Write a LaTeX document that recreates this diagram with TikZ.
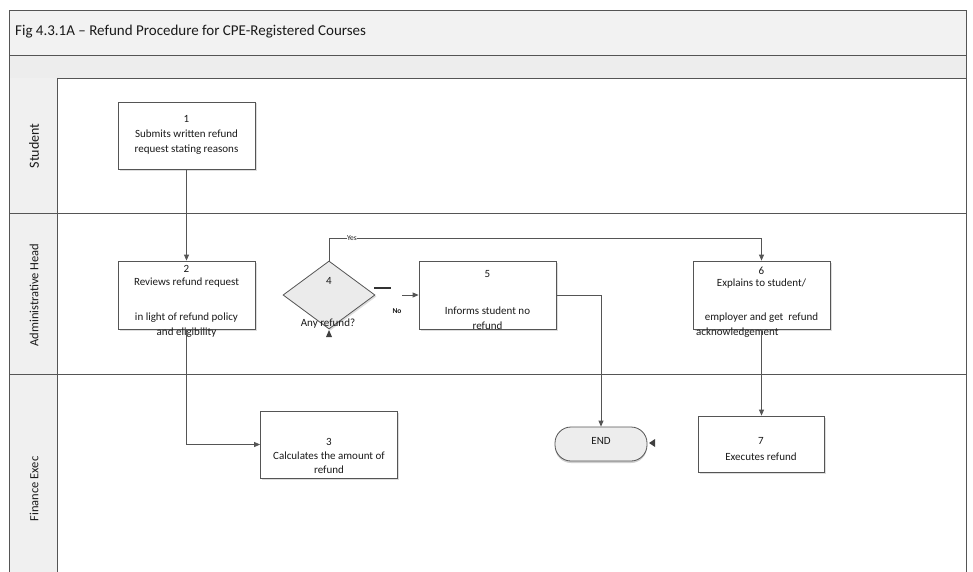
\documentclass[tikz,border=0pt]{standalone}
\usepackage{fontspec}
\setmainfont{Carlito}
\usetikzlibrary{arrows.meta,shadows,shapes.geometric}
\definecolor{ln}{HTML}{555555}
\definecolor{txt}{HTML}{1A1A1A}
\begin{document}
\begin{tikzpicture}[x=1pt,y=-1pt,
  box/.style={draw=ln, line width=0.8pt, fill=white, minimum width=137pt, minimum height=67pt, inner sep=0pt,
    drop shadow={shadow xshift=1.5pt, shadow yshift=-1.5pt, fill=black!22, opacity=0.6}},
  lbl/.style={font=\fontsize{11}{12}\selectfont, text=txt, inner sep=0pt, text height=7.5pt, text depth=2pt},
  tiny/.style={font=\fontsize{7.5}{8}\selectfont, text=txt, inner sep=0.6pt, fill=white},
  conn/.style={draw=ln, line width=0.8pt},
  arr/.style={conn, -{Triangle[length=6pt,width=5pt]}},
  lane/.style={font=\fontsize{13}{14}\selectfont, text=txt, rotate=90, inner sep=0pt}]
\useasboundingbox (0,0) rectangle (973,572);
% frame and bands
\fill[white] (0,0) rectangle (973,572);
\draw[ln, line width=0.8pt, fill=black!5] (9,10) rectangle (966,55);
\draw[ln, line width=0.8pt, fill=black!7] (9,55) rectangle (966,78);
\fill[black!6] (9,78) rectangle (57,572);
\draw[ln, line width=0.8pt] (9,78) -- (9,572);
\draw[ln, line width=0.8pt] (966,78) -- (966,572);
\draw[ln, line width=0.8pt] (57,78) -- (57,572);
\draw[ln, line width=0.8pt] (9,213) -- (966,213);
\draw[ln, line width=0.8pt] (9,374) -- (966,374);
\node[anchor=west, font=\fontsize{15}{16}\selectfont, text=txt, inner sep=0pt] (title) at (15,32) {Fig 4.3.1A -- Refund Procedure for CPE-Registered Courses};
\node[lane, font=\fontsize{14}{15}\selectfont] (lstudent) at (34,146) {Student};
\node[lane, font=\fontsize{12.5}{14}\selectfont] (ladmin) at (34,295) {Administrative Head};
\node[lane, font=\fontsize{12.5}{14}\selectfont] (lfin) at (34,489) {Finance Exec};
% boxes
\node[box] (b1) at (186.5,135.5) {};
\node[box, minimum height=68pt] (b2) at (186.5,295) {};
\node[box, minimum height=68pt] (b5) at (487.5,295) {};
\node[box, minimum height=68pt] (b6) at (761.5,295) {};
\node[box] (b3) at (329,444.5) {};
\node[box, minimum width=126pt, minimum height=56pt] (b7) at (761,444) {};
\node[diamond, draw=ln, line width=0.8pt, fill=black!8, minimum width=92pt, minimum height=68pt, inner sep=0pt, aspect=1.35,
  drop shadow={shadow xshift=1.5pt, shadow yshift=-1.5pt, fill=black!22, opacity=0.6}] (d4) at (329,295) {};
\node[draw=ln, line width=0.8pt, fill=black!7, rounded corners=16pt, minimum width=92pt, minimum height=34pt, inner sep=0pt,
  drop shadow={shadow xshift=0pt, shadow yshift=-2pt, fill=black!30, opacity=0.6}] (endn) at (601,444) {};
% texts
\node[lbl] (t1a) at (186.5,120) {1};
\node[lbl] (t1b) at (186.5,135) {Submits written refund};
\node[lbl] (t1c) at (186.5,150) {request stating reasons};
\node[lbl] (t2a) at (186.5,270) {2};
\node[lbl] (t2b) at (186.5,283) {Reviews refund request};
\node[lbl] (t2c) at (186.5,318) {in light of refund policy};
\node[lbl] (t2d) at (186.5,333) {and eligibility};
\node[lbl] (t5a) at (487.5,275) {5};
\node[lbl] (t5b) at (487.5,312) {Informs student no};
\node[lbl] (t5c) at (487.5,327) {refund};
\node[lbl] (t6a) at (761.5,272) {6};
\node[lbl] (t6b) at (761.5,284) {Explains to student/};
\node[lbl] (t6c) at (761.5,318) {employer and get~ refund};
\node[lbl, anchor=west] (t6d) at (696,333) {acknowledgement};
\node[lbl] (t7a) at (761,442) {7};
\node[lbl] (t7b) at (761,458) {Executes refund};
\node[lbl] (t3a) at (329,443) {3};
\node[lbl] (t3b) at (329,457) {Calculates the amount of};
\node[lbl] (t3c) at (329,471) {refund};
\node[lbl] (t4a) at (329,282) {4};
\node[lbl] (t4b) at (328,324) {Any refund?};
\node[lbl] (tend) at (601,442) {END};
% connectors
\draw[arr] (b1.south) -- (b2.north);
\draw[arr] (b2.south) |- (b3.west);
\coordinate (y1) at (329,238);
\draw[arr] (d4.north) -- (y1) -| (b6.north);
\node[tiny] (yes) at (352,238) {Yes};
\coordinate (n1) at (374,288);
\coordinate (n2) at (391,288);
\coordinate (n3) at (402,295);
\draw[black!80, line width=1.5pt] (n1) -- (n2);
\draw[arr] (n3) -- (b5.west);
\node[tiny, fill=none, font=\fontsize{7.5}{8}\selectfont\bfseries] (no) at (397,311) {No};
\draw[arr] (b5.east) -| (endn.north);
\draw[arr] (b6.south) -- (b6.south |- b7.north);
% stray arrowheads
\coordinate (ah1) at (329,330);
\fill[black!75] (ah1) -- ++(-3,7) -- ++(6,0) -- cycle;
\coordinate (ah2) at (649,443);
\fill[black!75] (ah2) -- ++(6,-4) -- ++(0,8) -- cycle;
\end{tikzpicture}
\end{document}
